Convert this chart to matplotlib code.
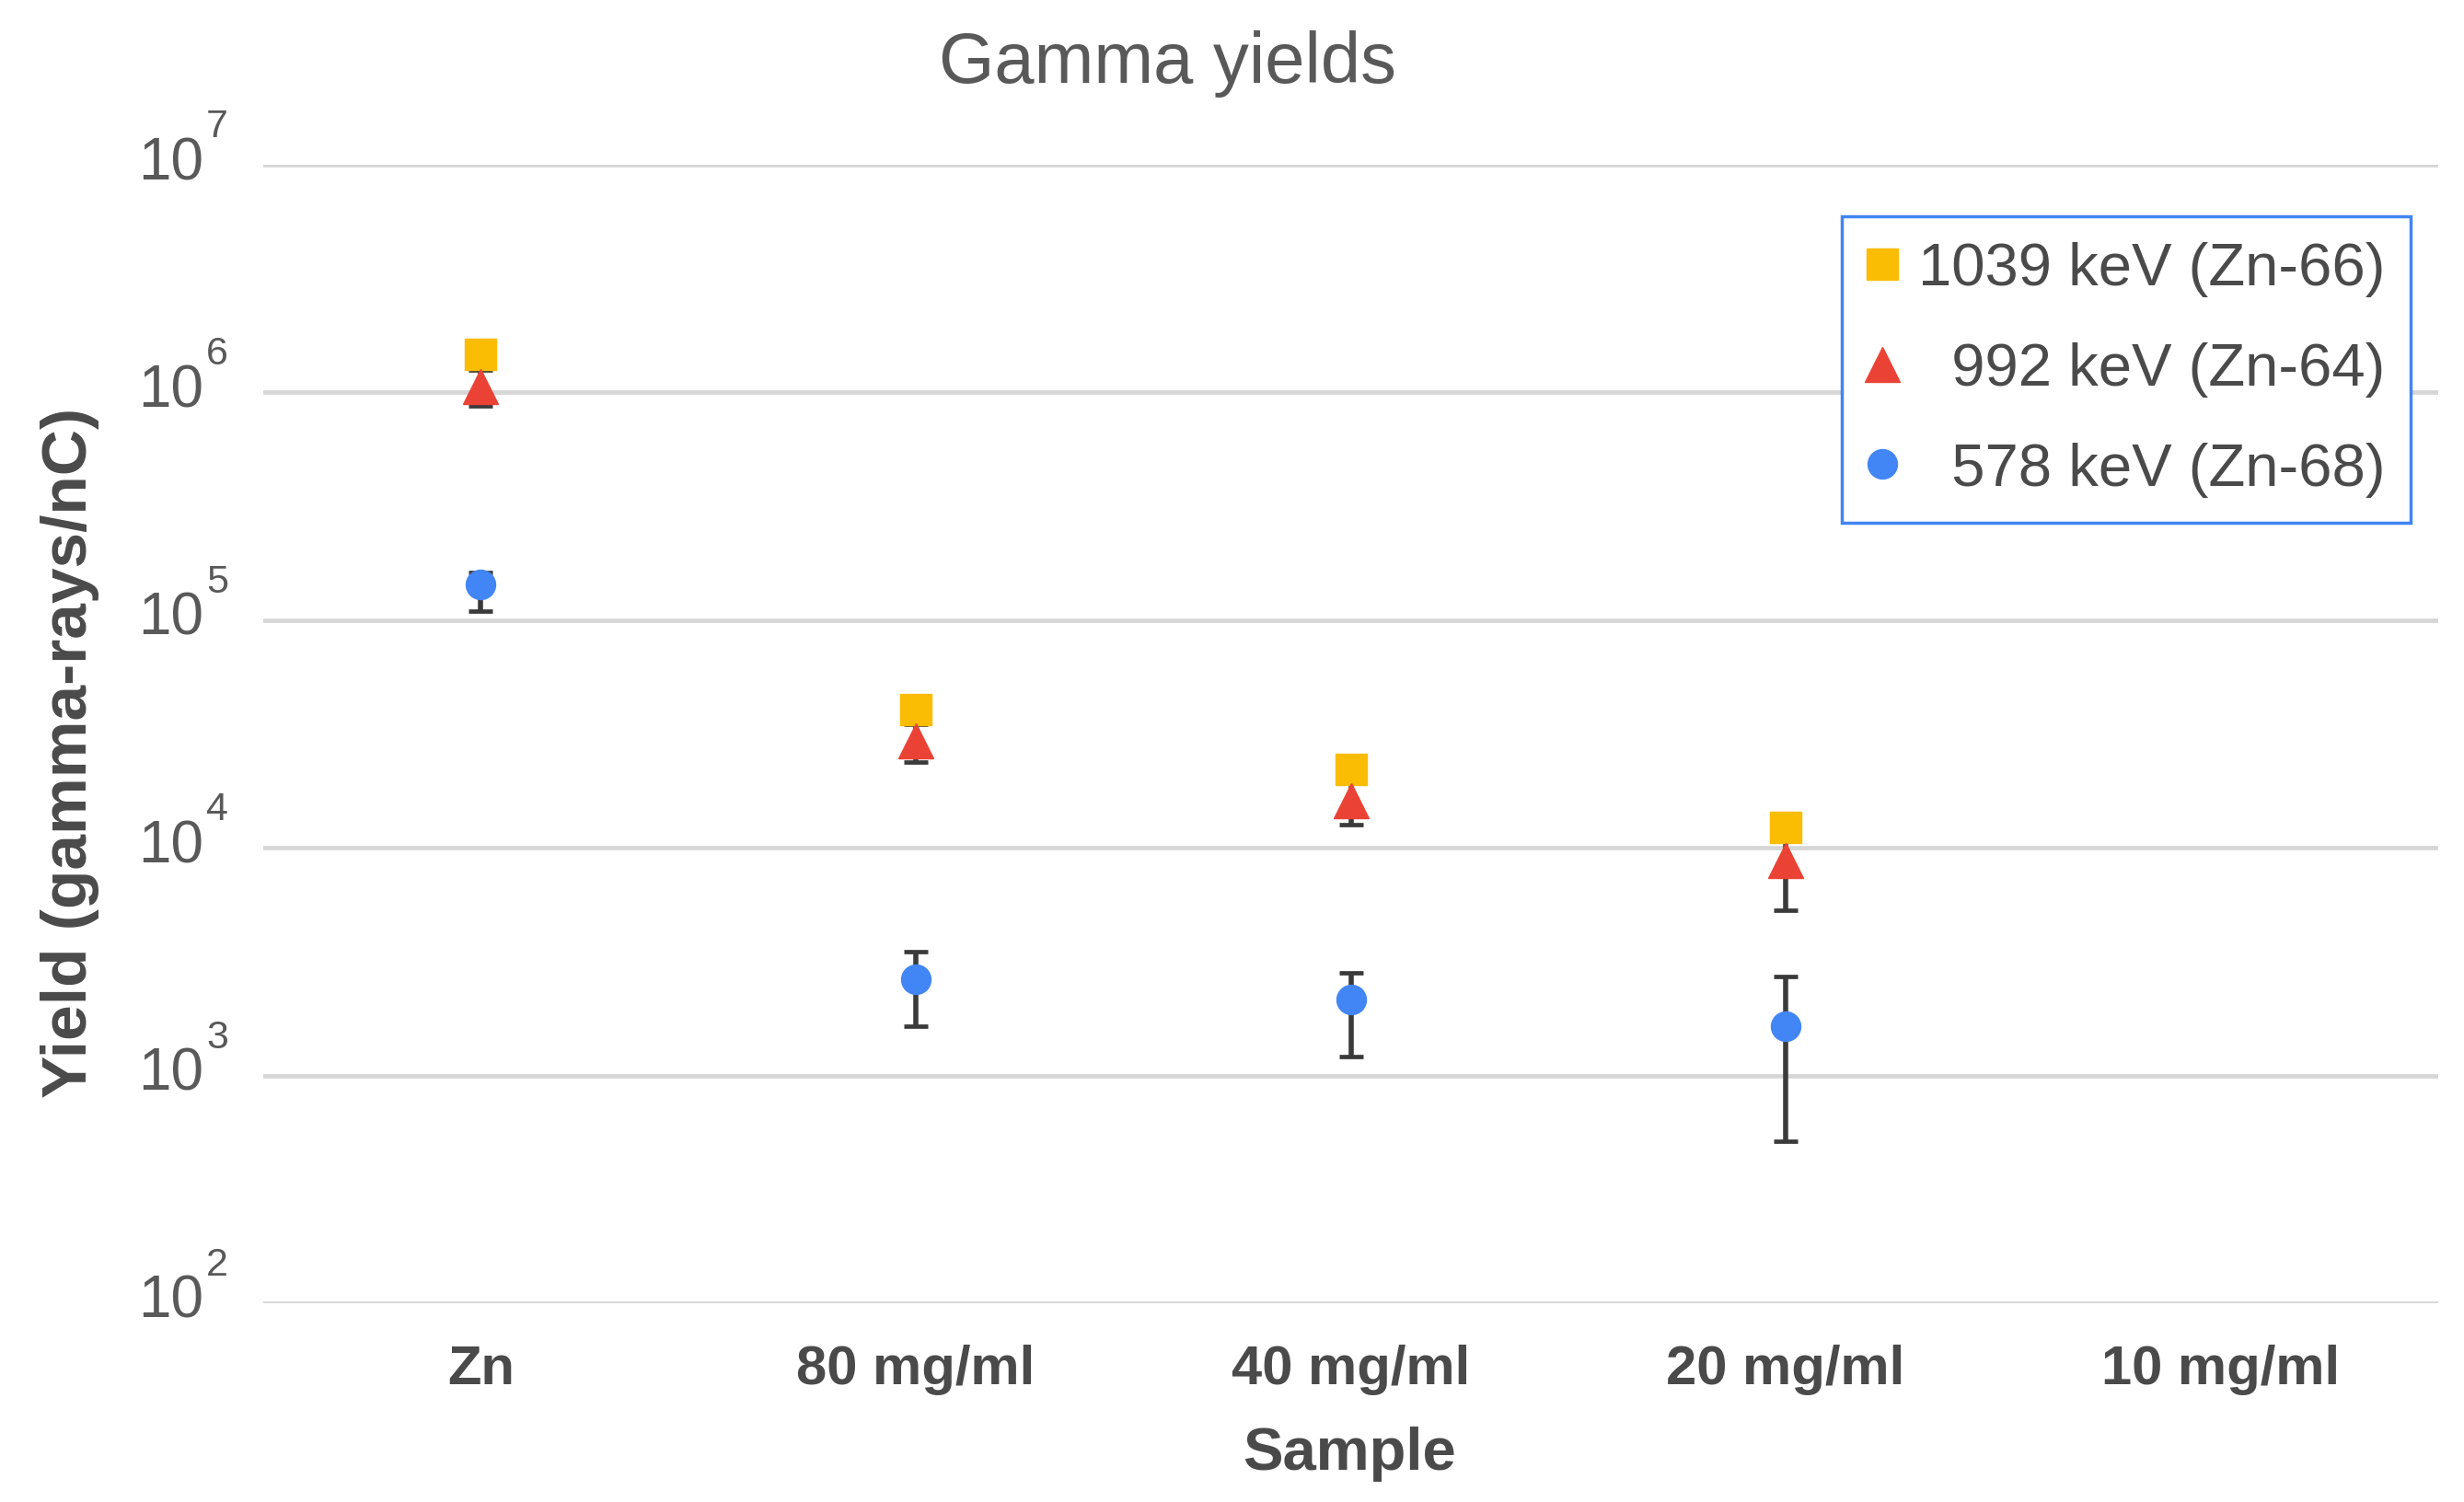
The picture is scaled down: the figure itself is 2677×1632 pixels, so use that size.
import matplotlib
matplotlib.use("Agg")
import matplotlib.pyplot as plt
from matplotlib.ticker import FixedLocator, NullLocator
import numpy as np

# ---------------- data ----------------
categories = ["Zn", "80 mg/ml", "40 mg/ml", "20 mg/ml", "10 mg/ml"]

series_names = ["1039 keV (Zn-66)", "992 keV (Zn-64)", "578 keV (Zn-68)"]
legend_labels = ["1039 keV (Zn-66)", "  992 keV (Zn-64)", "  578 keV (Zn-68)"]

# 1039 keV (Zn-66)
y_1039 = [1.47e6, 4.04e4, 2.22e4, 1.23e4, np.nan]

# 992 keV (Zn-64)
y_992 = [1.06e6, 2.94e4, 1.61e4, 8.77e3, np.nan]
err_992_low = [1.9e5, 5.5e3, 3.5e3, 3.44e3, np.nan]
err_992_high = [1.9e5, 5.5e3, 3.5e3, 3.44e3, np.nan]

# 578 keV (Zn-68)
y_578 = [1.44e5, 2.65e3, 2.16e3, 1.65e3, np.nan]
err_578_low = [3.4e4, 1.00e3, 0.95e3, 1.135e3, np.nan]
err_578_high = [1.8e4, 0.86e3, 0.67e3, 1.06e3, np.nan]

y_tick_base = "10"
y_tick_exponents = [2, 3, 4, 5, 6, 7]

title = "Gamma yields"
x_label = "Sample"
y_label = "Yield (gamma-rays/nC)"

# ---------------- style ----------------
plt.rcParams["font.family"] = ["Liberation Sans", "DejaVu Sans"]
W, H = 2677, 1633
DPI = 100
PX = 72.0 / DPI  # points per pixel
fig = plt.figure(figsize=(W / DPI, H / DPI), dpi=DPI)
fig.patch.set_facecolor("white")

ax_l, ax_r, ax_t, ax_b = 286, 2649, 180, 1417
ax = fig.add_axes([ax_l / W, 1 - ax_b / H, (ax_r - ax_l) / W, (ax_b - ax_t) / H])

C_Y = "#FBBC04"
C_R = "#EA4335"
C_B = "#4285F4"
C_ERR = "#3a3a3a"
C_TXT = "#595959"
C_DARK = "#4a4a4a"

x = np.arange(len(categories)) + 0.5

err_kw = dict(ecolor=C_ERR, elinewidth=4.0, capsize=9.7, capthick=3.4, zorder=2)

# error bars (under markers)
ax.errorbar(x, y_992, yerr=[err_992_low, err_992_high], fmt="none", **err_kw)
ax.errorbar(x, y_578, yerr=[err_578_low, err_578_high], fmt="none", **err_kw)

h1, = ax.plot(x, y_1039, ls="none", marker="s", ms=24, color=C_Y, mec=C_Y, zorder=3)
h2, = ax.plot(x, y_992, ls="none", marker="^", ms=27, color=C_R, mec=C_R, zorder=4)
h3, = ax.plot(x, y_578, ls="none", marker="o", ms=23, color=C_B, mec=C_B, zorder=4)

ax.set_yscale("log")
y_ticks = [10.0 ** e for e in y_tick_exponents]
ax.set_ylim(y_ticks[0], y_ticks[-1])
ax.set_xlim(0, len(categories))
ax.yaxis.set_major_locator(FixedLocator(y_ticks))
ax.yaxis.set_minor_locator(NullLocator())
ax.set_yticklabels([])
ax.set_xticks(x)
ax.set_xticklabels(categories)

for s in ax.spines.values():
    s.set_visible(False)
ax.tick_params(axis="both", length=0)
ax.tick_params(axis="x", labelsize=43, labelcolor=C_DARK, pad=32)
for t in ax.get_xticklabels():
    t.set_fontweight("bold")

ax.grid(axis="y", color="#d6d6d6", lw=3.4, zorder=0)
ax.set_axisbelow(True)

# y tick labels: "10" with a raised exponent
for e, v in zip(y_tick_exponents, y_ticks):
    ax.annotate(y_tick_base, xy=(221, v), xycoords=("figure pixels", "data"),
                xytext=(0, -15 * PX), textcoords="offset points",
                ha="right", va="baseline", fontsize=46, color=C_TXT,
                annotation_clip=False)
    ax.annotate(str(e), xy=(224, v), xycoords=("figure pixels", "data"),
                xytext=(0, 31 * PX), textcoords="offset points",
                ha="left", va="baseline", fontsize=31, color=C_TXT,
                annotation_clip=False)

fig.text(1268 / W, 1 - 70 / H, title, ha="center", va="center", fontsize=56, color=C_TXT)
fig.text(1466 / W, 1 - 1580 / H, x_label, ha="center", va="center", fontsize=47,
         fontweight="bold", color=C_DARK)
fig.text(76 / W, 1 - 818 / H, y_label, ha="center", va="center", rotation=90,
         fontsize=50, fontweight="bold", color=C_DARK)

leg = ax.legend([h1, h2, h3], legend_labels, loc="upper left",
                bbox_to_anchor=(2001 / W, 1 - 236 / H), bbox_transform=fig.transFigure,
                fontsize=47, frameon=True, fancybox=False, borderaxespad=0,
                borderpad=0.42, labelspacing=0.75, handlelength=0.5, handletextpad=0.35,
                markerscale=1.0, labelcolor=C_DARK)
leg.get_frame().set_edgecolor(C_B)
leg.get_frame().set_linewidth(2.5)
leg.get_frame().set_facecolor("white")
leg.get_frame().set_alpha(1)

fig.savefig("out.png", dpi=DPI, facecolor="white")
